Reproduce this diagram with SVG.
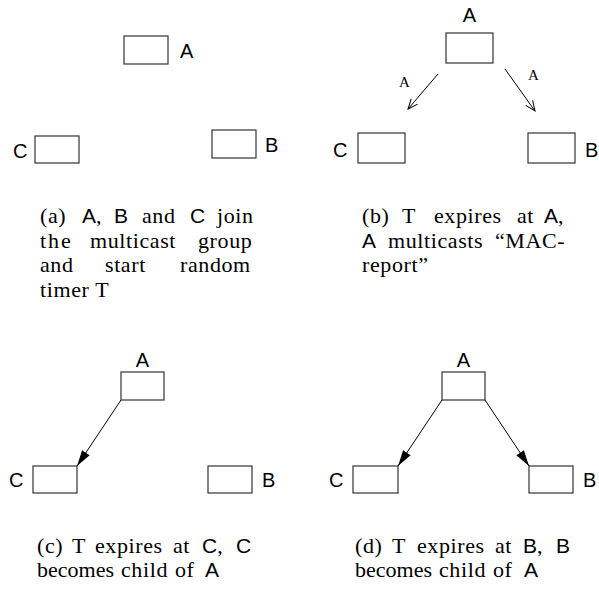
<svg xmlns="http://www.w3.org/2000/svg" width="599" height="590" viewBox="0 0 599 590">
<defs>
<style>
.box{fill:#fff;stroke:#333;stroke-width:1.2}
.lbl{font-family:"Liberation Sans",Arial,sans-serif;font-size:20px;fill:#000}
.cap{font-family:"Liberation Serif","Times New Roman",serif;font-size:22px;letter-spacing:0.6px;fill:#000}
.sf{font-family:"Liberation Sans",Arial,sans-serif;font-size:21px;letter-spacing:0}
.small{font-family:"Liberation Serif","Times New Roman",serif;font-size:15px;fill:#000}
.edge{fill:none;stroke:#000;stroke-width:1}
</style>
<marker id="open" markerUnits="userSpaceOnUse" markerWidth="12" markerHeight="12" refX="10" refY="5" orient="auto" viewBox="0 0 12 10">
<path d="M0,0.8 L10,5 L0,9.2" fill="none" stroke="#000" stroke-width="1"/>
</marker>
<marker id="fill" markerUnits="userSpaceOnUse" markerWidth="18" markerHeight="10" refX="16" refY="4.5" orient="auto" viewBox="0 0 18 9">
<path d="M0,0 L16,4.5 L0,9 z" fill="#000"/>
</marker>
</defs>
<rect width="599" height="590" fill="#fff"/>

<!-- Panel (a) -->
<g id="a-A"><rect class="box" x="124" y="36" width="44" height="28"/><text class="lbl" x="180" y="58">A</text></g>
<g id="a-C"><rect class="box" x="35" y="136" width="44" height="27"/><text class="lbl" x="13" y="158">C</text></g>
<g id="a-B"><rect class="box" x="212" y="130" width="44" height="28"/><text class="lbl" x="265" y="152">B</text></g>
<g id="cap-a">
<text class="cap" y="223"><tspan x="40">(a)</tspan><tspan x="82" class="sf">A</tspan>,<tspan x="114" class="sf">B</tspan><tspan x="142">and</tspan><tspan x="190" class="sf">C</tspan><tspan x="217">join</tspan></text>
<text class="cap" y="247.5"><tspan x="40" letter-spacing="2">the</tspan><tspan x="90">multicast</tspan><tspan x="198">group</tspan></text>
<text class="cap" y="272"><tspan x="40">and</tspan><tspan x="105">start</tspan><tspan x="180">random</tspan></text>
<text class="cap" y="296.5"><tspan x="40">timer T</tspan></text>
</g>

<!-- Panel (b) -->
<g id="b-A"><rect class="box" x="446" y="33" width="47" height="30"/><text class="lbl" x="469.5" y="22" text-anchor="middle">A</text></g>
<g id="b-C"><rect class="box" x="358" y="133" width="47" height="30"/><text class="lbl" x="333" y="157">C</text></g>
<g id="b-B"><rect class="box" x="528" y="133" width="47" height="30"/><text class="lbl" x="585" y="157">B</text></g>
<g id="b-edges">
<line class="edge" x1="438" y1="74" x2="408" y2="109" marker-end="url(#open)"/>
<line class="edge" x1="505" y1="69" x2="535" y2="111" marker-end="url(#open)"/>
<text class="small" x="399" y="87">A</text>
<text class="small" x="528" y="80">A</text>
</g>
<g id="cap-b">
<text class="cap" y="223"><tspan x="362">(b)</tspan><tspan x="402">T</tspan><tspan x="434">expires</tspan><tspan x="517">at</tspan><tspan x="544" class="sf">A</tspan>,</text>
<text class="cap" y="247.5"><tspan x="362" class="sf">A</tspan><tspan x="388">multicasts</tspan><tspan x="495">“MAC-</tspan></text>
<text class="cap" y="272"><tspan x="362">report”</tspan></text>
</g>

<!-- Panel (c) -->
<g id="c-A"><rect class="box" x="121" y="372" width="43" height="28"/><text class="lbl" x="142.5" y="367" text-anchor="middle">A</text></g>
<g id="c-C"><rect class="box" x="33" y="466" width="44" height="27"/><text class="lbl" x="9" y="487">C</text></g>
<g id="c-B"><rect class="box" x="208" y="466" width="44" height="27"/><text class="lbl" x="262" y="487">B</text></g>
<g id="c-edges">
<line class="edge" x1="121" y1="400" x2="77" y2="466" marker-end="url(#fill)"/>
</g>
<g id="cap-c">
<text class="cap" y="553"><tspan x="37">(c)</tspan><tspan x="72">T</tspan><tspan x="95">expires</tspan><tspan x="173">at</tspan><tspan x="202" class="sf">C</tspan>,<tspan x="236" class="sf">C</tspan></text>
<text class="cap" y="577"><tspan x="37" letter-spacing="0">becomes</tspan><tspan x="121">child</tspan><tspan x="175">of</tspan><tspan x="205" class="sf">A</tspan></text>
</g>

<!-- Panel (d) -->
<g id="d-A"><rect class="box" x="442" y="372" width="43" height="28"/><text class="lbl" x="463.5" y="367" text-anchor="middle">A</text></g>
<g id="d-C"><rect class="box" x="353" y="466" width="45" height="27"/><text class="lbl" x="329" y="487">C</text></g>
<g id="d-B"><rect class="box" x="529" y="466" width="44" height="27"/><text class="lbl" x="583" y="487">B</text></g>
<g id="d-edges">
<line class="edge" x1="442" y1="400" x2="398" y2="466" marker-end="url(#fill)"/>
<line class="edge" x1="485" y1="400" x2="529" y2="466" marker-end="url(#fill)"/>
</g>
<g id="cap-d">
<text class="cap" y="553"><tspan x="355">(d)</tspan><tspan x="392">T</tspan><tspan x="417">expires</tspan><tspan x="495">at</tspan><tspan x="523" class="sf">B</tspan>,<tspan x="556" class="sf">B</tspan></text>
<text class="cap" y="577"><tspan x="355" letter-spacing="0">becomes</tspan><tspan x="439">child</tspan><tspan x="493">of</tspan><tspan x="524" class="sf">A</tspan></text>
</g>
</svg>
